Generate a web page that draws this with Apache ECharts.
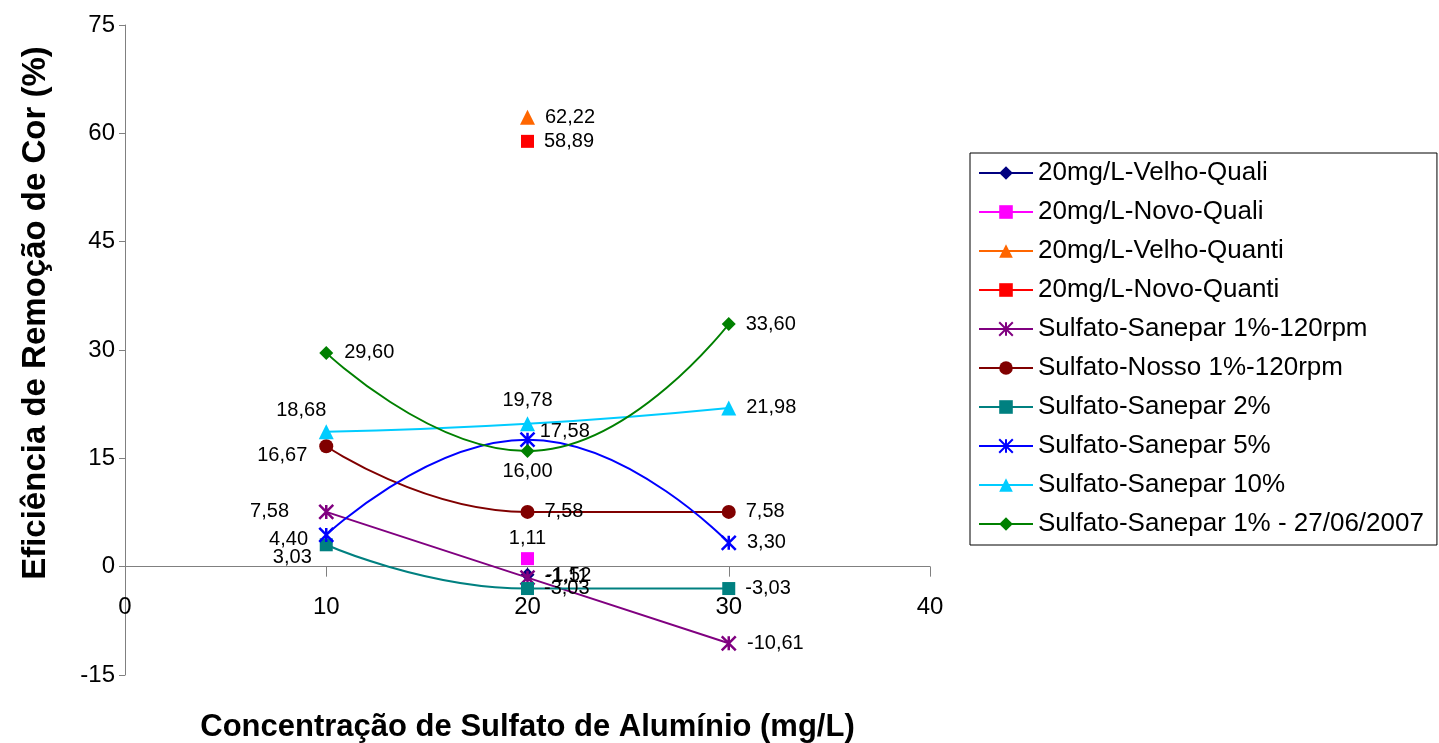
<!DOCTYPE html>
<html><head><meta charset="utf-8">
<script src="https://cdn.jsdelivr.net/npm/echarts@6/dist/echarts.min.js"></script>
<style>html,body{margin:0;padding:0;background:#fff}#c{width:1439px;height:743px}</style>
</head><body><div id="c"></div>
<script>
const seriesNames = ['20mg/L-Velho-Quali','20mg/L-Novo-Quali','20mg/L-Velho-Quanti','20mg/L-Novo-Quanti','Sulfato-Sanepar 1%-120rpm','Sulfato-Nosso 1%-120rpm','Sulfato-Sanepar 2%','Sulfato-Sanepar 5%','Sulfato-Sanepar 10%','Sulfato-Sanepar 1% - 27/06/2007'];
const xSingle = [20];
const xTriple = [10, 20, 30];
const velhoQuali = [-1.11];
const novoQuali = [1.11];
const velhoQuanti = [62.22];
const novoQuanti = [58.89];
const sanepar1_120 = [7.58, -1.52, -10.61];
const nosso1_120 = [16.67, 7.58, 7.58];
const sanepar2 = [3.03, -3.03, -3.03];
const sanepar5 = [4.40, 17.58, 3.30];
const sanepar10 = [18.68, 19.78, 21.98];
const sanepar1_2706 = [29.60, 16.00, 33.60];
const yTicks = [-15, 0, 15, 30, 45, 60, 75];
const xTicks = [0, 10, 20, 30, 40];

const ySets = [velhoQuali, novoQuali, velhoQuanti, novoQuanti, sanepar1_120, nosso1_120, sanepar2, sanepar5, sanepar10, sanepar1_2706];
const xSets = [xSingle, xSingle, xSingle, xSingle, xTriple, xTriple, xTriple, xTriple, xTriple, xTriple];
const colors = ['#000080','#FF00FF','#FF6600','#FF0000','#800080','#800000','#008080','#0000FF','#00CCFF','#008000'];
const star = 'path://M5,0L5,10M0,0L10,10M10,0L0,10';
const symbols = ['diamond','rect','triangle','rect',star,'circle','rect',star,'triangle','diamond'];
const symSizes = [14,13,15,13,14,14,13,14,15,14];
// label placement per point: [position, offsetX, offsetY]
const R = ['right',2,0];
const labelPos = [
  [['right',2,2]],[['top',0,4]],[R],[R],
  [['left',-21,0], ['right',2,-2], R],
  [['left',-4,9], R, R],
  [['left',0,13], ['right',2,0], R],
  [['left',-2,5], ['right',-4,-8], R],
  [['top',-25,4], ['top',0,2], R],
  [['right',3,0], ['bottom',0,-5], R]
];
const fmt = v => v.toFixed(2).replace('.', ',');
const FF = 'Liberation Sans, Arial, sans-serif';

const series = seriesNames.map((name, i) => {
  const isStar = symbols[i] === star;
  return {
    name, type: 'line', smooth: 0.5,
    symbol: symbols[i], symbolSize: symSizes[i],
    lineStyle: { color: colors[i], width: 2 },
    itemStyle: isStar ? { color: colors[i], borderColor: colors[i], borderWidth: 2.5 } : { color: colors[i] },
    data: xSets[i].map((x, j) => ({
      value: [x, ySets[i][j]],
      label: {
        show: true, position: labelPos[i][j][0], distance: 8,
        offset: [labelPos[i][j][1], labelPos[i][j][2]],
        formatter: p => fmt(p.value[1]),
        color: '#000', fontSize: 20, fontFamily: FF
      }
    })),
    z: 2 + i
  };
});

const chart = echarts.init(document.getElementById('c'));
chart.setOption({
  animation: false,
  backgroundColor: '#fff',
  textStyle: { fontFamily: FF },
  grid: { left: 125, right: 509, top: 25, bottom: 68, containLabel: false, outerBoundsMode: 'none' },
  xAxis: {
    type: 'value', min: xTicks[0], max: xTicks[xTicks.length-1], interval: 10,
    name: 'Concentração de Sulfato de Alumínio (mg/L)', nameLocation: 'middle', nameGap: 37,
    nameTextStyle: { fontSize: 31, fontWeight: 'bold', color: '#000', fontFamily: FF },
    axisLine: { onZero: true, lineStyle: { color: '#808080', width: 1 } },
    axisTick: { show: true, inside: false, length: 10, lineStyle: { color: '#808080' } },
    axisLabel: { fontSize: 24, color: '#000', margin: -80, fontFamily: FF },
    splitLine: { show: false }
  },
  yAxis: {
    type: 'value', min: yTicks[0], max: yTicks[yTicks.length-1], interval: 15,
    name: 'Eficiência de Remoção de Cor (%)', nameLocation: 'middle', nameGap: 73,
    nameTextStyle: { fontSize: 33, fontWeight: 'bold', color: '#000', fontFamily: FF, padding: [0, 0, 0, 74] },
    axisLine: { show: true, onZero: false, lineStyle: { color: '#808080', width: 1 } },
    axisTick: { show: true, length: 6, lineStyle: { color: '#808080' } },
    axisLabel: { fontSize: 24, color: '#000', margin: 10, fontFamily: FF },
    splitLine: { show: false }
  },
  legend: {
    orient: 'vertical', left: 970, top: 153,
    padding: [7, 13, 8, 8], itemGap: 13,
    borderColor: '#000', borderWidth: 1,
    itemWidth: 54, itemHeight: 17,
    textStyle: { fontSize: 26, color: '#000', fontFamily: FF },
    data: seriesNames
  },
  series
});
</script>
</body></html>
